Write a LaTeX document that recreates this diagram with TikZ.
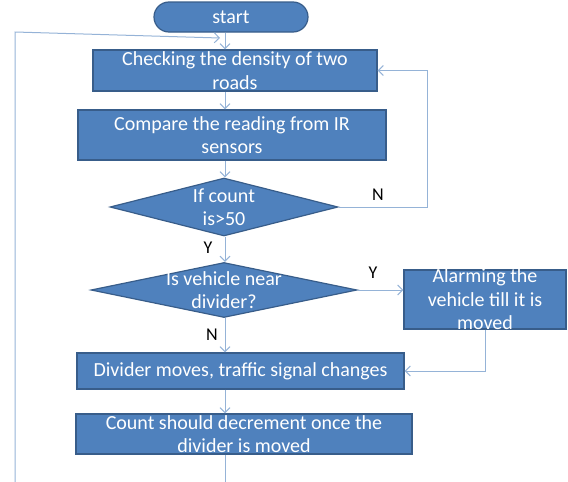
\documentclass[tikz,border=0pt]{standalone}
\usepackage{fontspec}
\setmainfont{Carlito}
\usetikzlibrary{shapes.geometric,shapes.misc,arrows.meta}
\definecolor{boxblue}{HTML}{4F81BD}
\definecolor{boxedge}{HTML}{385D8A}
\definecolor{linkblue}{HTML}{95B3D7}
\tikzset{
  box/.style={draw=boxedge, fill=boxblue, line width=1.2pt, inner sep=0pt},
  boxtext/.style={text=white, align=center, inner sep=0pt, font=\fontsize{20}{23.5}\selectfont},
  decision/.style={box, diamond},
  link/.style={draw=linkblue, line width=1pt, -{Straight Barb[length=5pt,width=10pt]}},
  plainlink/.style={draw=linkblue, line width=1pt},
  tag/.style={inner sep=0pt, font=\fontsize{18}{20}\selectfont}
}

\begin{document}
\begin{tikzpicture}[x=1pt,y=-1pt]
		\useasboundingbox (0,0) rectangle (568,482);
		
		%%%%% BLOCKS %%%%%
		\node[box, rounded rectangle, minimum width=154pt, minimum height=30pt, label={[boxtext]center:start}] (start) at (231, 17) {};
		\node[box, minimum width=284pt, minimum height=41pt, label={[boxtext]center:Checking the density of two\\roads}] (check) at (235, 70.5) {};
		\node[box, minimum width=308pt, minimum height=50pt, label={[boxtext]center:Compare the reading from IR\\sensors}] (compare) at (232, 135) {};
		\node[decision, minimum width=228pt, minimum height=58pt, label={[boxtext]center:If count\\is>50}] (count) at (224, 207) {};
		\node[decision, minimum width=266pt, minimum height=55pt, label={[boxtext]center:Is vehicle near\\divider?}] (near) at (224, 290) {};
		\node[box, minimum width=162pt, minimum height=59pt, label={[boxtext]center:Alarming the\\vehicle till it is\\moved}] (alarm) at (485, 299.5) {};
		\node[box, minimum width=327pt, minimum height=36pt, label={[boxtext]center:Divider moves, traffic signal changes}] (divider) at (240.5, 371) {};
		\node[box, minimum width=336pt, minimum height=40pt, label={[boxtext]center:Count should decrement once the\\divider is moved}] (decrement) at (244, 434) {};
		
		%%%%% LABELS %%%%%
		\node[tag] (ncount) at (378, 195) {N};
		\node[tag] (ycount) at (208, 248) {Y};
		\node[tag] (ynear) at (373, 273) {Y};
		\node[tag] (nnear) at (212, 335) {N};
		
		%%%%% LINKS %%%%%
		\coordinate (spine) at (225, 0);
		\coordinate (looptop) at (15, 32);
		\coordinate (loopend) at (15, 482);
		\coordinate (loophead) at (220, 38);
		\coordinate (exit) at (225, 482);
		
		\draw[link] (start.south -| spine) -- (check.north -| spine);
		\draw[link] (check.south -| spine) -- (compare.north -| spine);
		\draw[link] (compare.south -| spine) -- (count.north -| spine);
		\draw[link] (count.south -| spine) -- (near.north -| spine);
		\draw[link] (near.south -| spine) -- (divider.north -| spine);
		\draw[link] (divider.south -| spine) -- (decrement.north -| spine);
		\draw[plainlink] (decrement.south -| spine) -- (exit);
		\draw[link] (loopend) -- (looptop) -- (loophead);
		
		\draw[link] (count.east) -- ++(89, 0) |- (check.east);
		\draw[link] (near.east) -- (near.east -| alarm.west);
		\draw[link] (alarm.south) |- (divider.east);
	\end{tikzpicture}
\end{document}
